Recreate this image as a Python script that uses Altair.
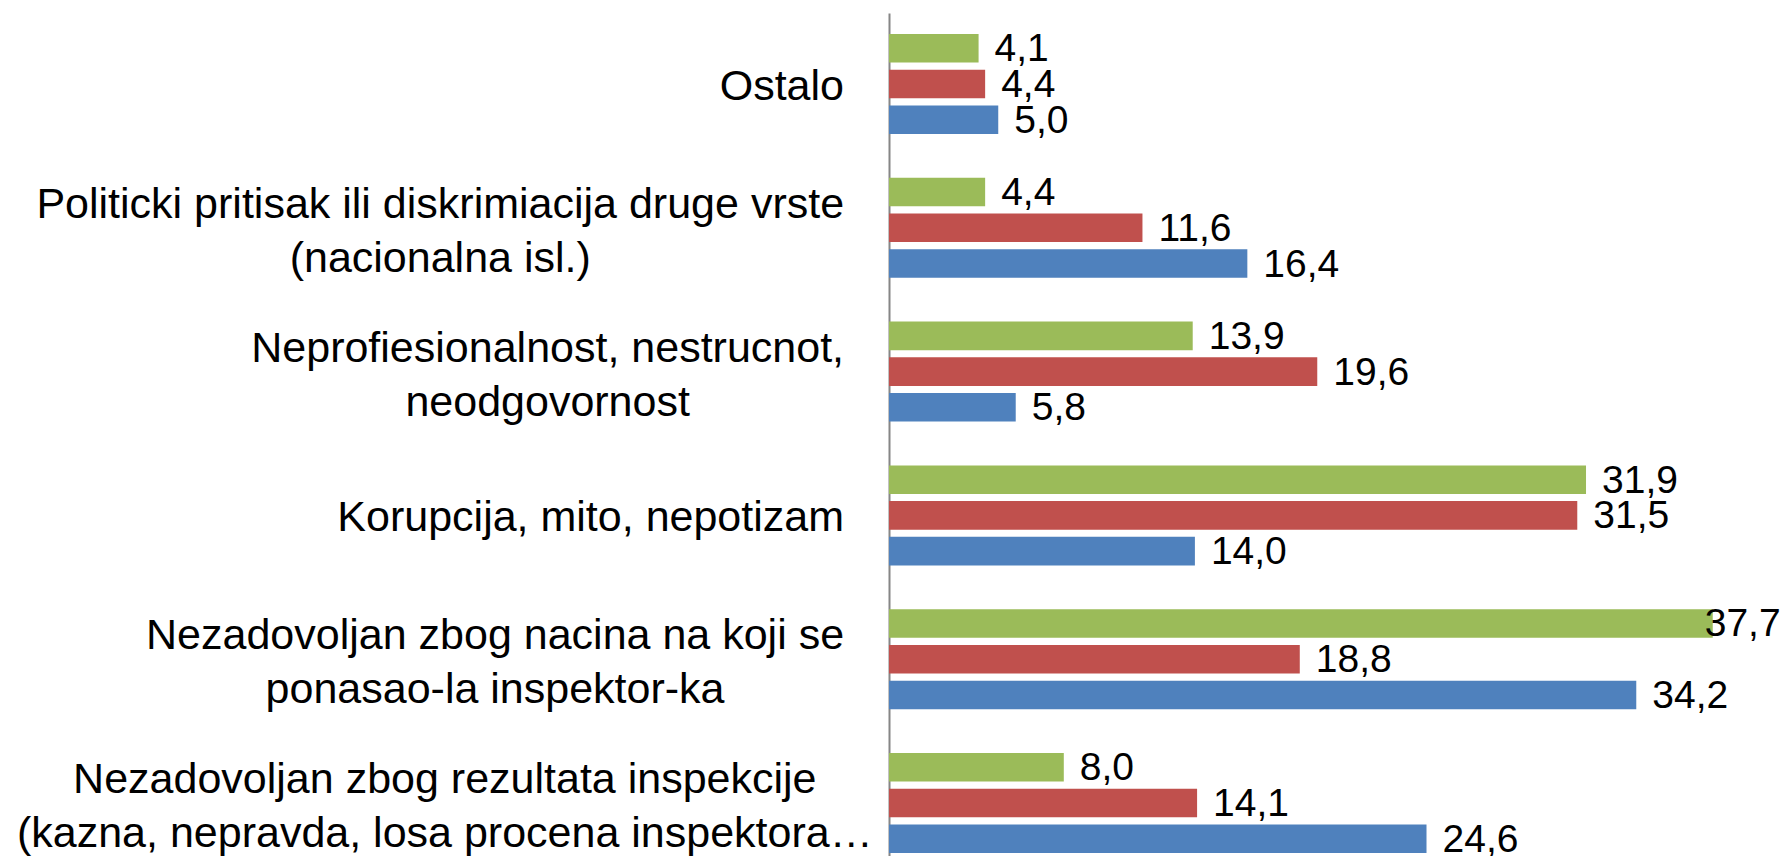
import altair as alt
import pandas as pd

# ---- data (top to bottom as shown) ----
categories = [
    "Ostalo",
    "Politicki pritisak ili diskrimiacija druge vrste\n(nacionalna isl.)",
    "Neprofiesionalnost, nestrucnot,\nneodgovornost",
    "Korupcija, mito, nepotizam",
    "Nezadovoljan zbog nacina na koji se\nponasao-la inspektor-ka",
    "Nezadovoljan zbog rezultata inspekcije\n(kazna, nepravda, losa procena inspektora\u2026",
]
green_vals = [4.1, 4.4, 13.9, 31.9, 37.7, 8.0]
red_vals = [4.4, 11.6, 19.6, 31.5, 18.8, 14.1]
blue_vals = [5.0, 16.4, 5.8, 14.0, 34.2, 24.6]

series = ["Serija 3", "Serija 2", "Serija 1"]          # order inside each group, top to bottom
colors = ["#9BBB59", "#C0504D", "#4F81BD"]

rows = []
for i, c in enumerate(categories):
    for s, vals in zip(series, [green_vals, red_vals, blue_vals]):
        rows.append({"cat": c, "serija": s, "v": vals[i]})
df = pd.DataFrame(rows)

# ---- category-label layout (Liberation Sans = Arial metrics, per 1000 em) ----
FONT = "Liberation Sans"
CAT_SIZE = 43
LINE_H = 54
W = {" ": 278, ",": 278, ".": 278, "(": 333, ")": 333, "-": 333, "\u2026": 1000,
     "O": 778, "P": 667, "N": 722, "K": 667,
     "a": 556, "b": 556, "c": 500, "d": 556, "e": 556, "f": 278, "g": 556, "h": 556,
     "i": 222, "j": 222, "k": 500, "l": 222, "m": 833, "n": 556, "o": 556, "p": 556,
     "q": 556, "r": 333, "s": 500, "t": 278, "u": 556, "v": 500, "w": 722, "x": 500,
     "y": 500, "z": 500}


def text_w(s):
    return sum(W.get(ch, 556) for ch in s) / 1000.0 * CAT_SIZE


cat_rows = []
for c in categories:
    lines = c.split("\n")
    w = max(text_w(line) for line in lines)
    cx = max(-45 - w / 2, -872 + w / 2)
    cat_rows.append({"cat": c, "cx": cx, "n": len(lines)})
cat_df = pd.DataFrame(cat_rows)

yscale = alt.Scale(paddingInner=0.3046, paddingOuter=0.0834, align=0.875)
yaxis = alt.Axis(labels=False, ticks=False, title=None, grid=False,
                 domainColor="#868686", domainWidth=2)

xscale = alt.Scale(domain=[0, 40], nice=False, zero=True)
yenc = alt.Y("cat:N", sort=categories, scale=yscale, axis=yaxis)
yoff = alt.YOffset("serija:N", sort=series, scale=alt.Scale(paddingInner=0.2, paddingOuter=0))

bars = alt.Chart(df).mark_bar().encode(
    x=alt.X("v:Q", scale=xscale, axis=None),
    y=yenc,
    yOffset=yoff,
    color=alt.Color("serija:N", scale=alt.Scale(domain=series, range=colors), legend=None),
)

values = alt.Chart(df).transform_calculate(
    lbl="replace(format(datum.v, '.1f'), '.', ',')",
    lx="min(datum.v, 36.6)",
).mark_text(align="left", baseline="middle", dx=16, dy=1, fontSize=39, font=FONT, color="black").encode(
    x=alt.X("lx:Q", scale=xscale, axis=None),
    y=yenc,
    yOffset=yoff,
    text="lbl:N",
)


def cat_layer(n_lines, dy):
    return alt.Chart(cat_df).transform_filter(f"datum.n == {n_lines}").mark_text(
        align="center", baseline="middle", lineBreak="\n", lineHeight=LINE_H,
        fontSize=CAT_SIZE, font=FONT, color="black", dy=dy,
    ).encode(
        x=alt.X("cx:Q", scale=None, axis=None),
        y=yenc,
        text="cat:N",
    )


cat_one = cat_layer(1, 3)
cat_two = cat_layer(2, 4 - LINE_H / 2)

chart = alt.layer(bars, values, cat_one, cat_two).resolve_scale(x="independent").properties(
    width=874,
    height=843,
    padding={"left": 881, "top": 5, "right": 18, "bottom": 0},
    autosize=alt.AutoSizeParams(type="none"),
    background="white",
).configure_view(stroke=None)

chart.save("out.html", embed_options={"renderer": "svg", "actions": False})
